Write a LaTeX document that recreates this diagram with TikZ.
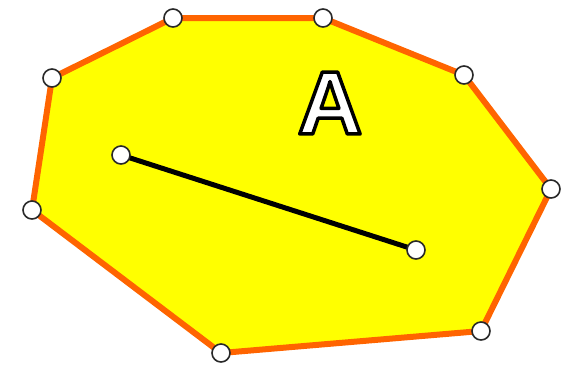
\documentclass[tikz,border=0pt]{standalone}
\usepackage{fontspec}
\setmainfont{Liberation Sans}
\usetikzlibrary{positioning}

\definecolor{edgeorange}{RGB}{255,100,0}
\definecolor{areayellow}{RGB}{255,255,0}
\definecolor{rimgray}{RGB}{40,40,40}

\tikzset{
    vertex/.style={circle, draw=rimgray, line width=1.6pt, fill=white, inner sep=0pt, minimum size=18pt},
    region/.style={draw=edgeorange, fill=areayellow, line width=6pt, line join=round},
    chord/.style={draw=black, line width=5pt}
}
% white letter with a black rim
\newcommand{\rimtext}[1]{\special{pdf:literal direct 2 Tr 3.5 w 1 j 0 G 1 g}#1\special{pdf:literal direct 0 Tr 1 w 0 g 0 G}}

\begin{document}
\begin{tikzpicture}[x=1pt, y=-1pt]
    \useasboundingbox (0,0) rectangle (561,365);

    % polygon corners
    \coordinate (p1) at (173,18);
    \coordinate (p2) at (323,18);
    \coordinate (p3) at (464,75);
    \coordinate (p4) at (551,189);
    \coordinate (p5) at (481,331);
    \coordinate (p6) at (221,353);
    \coordinate (p7) at (32,210);
    \coordinate (p8) at (52,78);
    \coordinate (s1) at (121,155);
    \coordinate (s2) at (416,250);

    \path[region] (p1) -- (p2) -- (p3) -- (p4) -- (p5) -- (p6) -- (p7) -- (p8) -- cycle;
    \path[chord] (s1) -- (s2);

    \foreach \c in {p1,p2,p3,p4,p5,p6,p7,p8,s1,s2}
        \node[vertex] (n\c) at (\c) {};

    \node (label) at (330,103) {\fontsize{90}{90}\selectfont\bfseries\rimtext{A}};
\end{tikzpicture}
\end{document}
